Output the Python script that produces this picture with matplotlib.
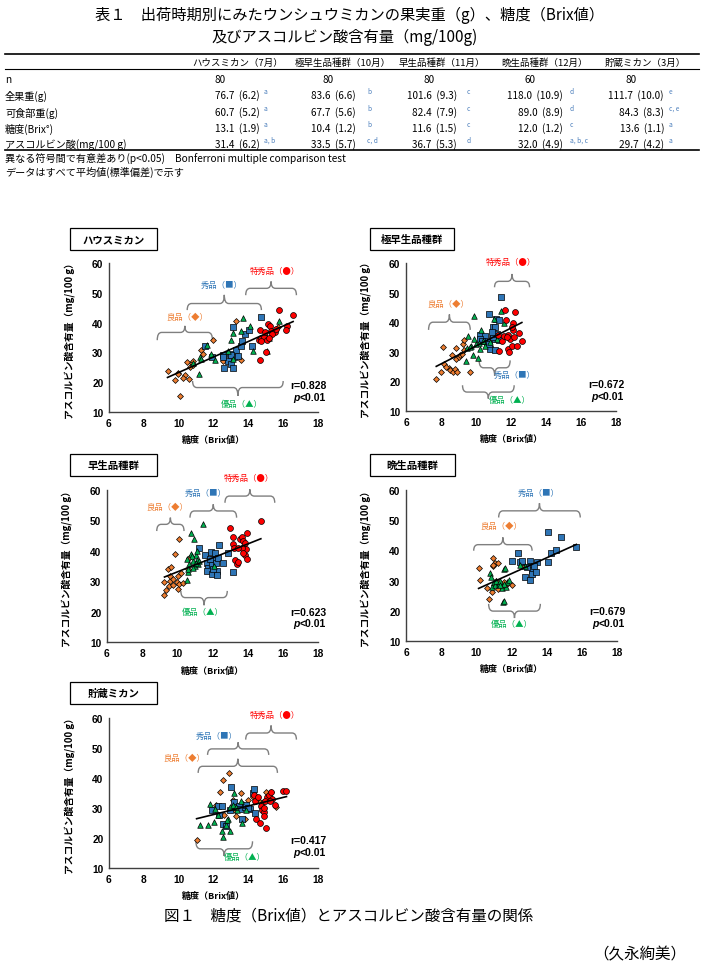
import numpy as np
import matplotlib
matplotlib.use('Agg')
import matplotlib.pyplot as plt
from matplotlib.path import Path
from matplotlib.patches import PathPatch, Rectangle
from matplotlib.lines import Line2D

plt.rcParams['font.family'] = ['Noto Sans CJK JP', 'DejaVu Sans']

W, H = 705, 978

# ---------------- 表1 のデータ ----------------
tbl_cols = ['ハウスミカン（7月）', '極早生品種群（10月）', '早生品種群（11月）', '晩生品種群（12月）', '貯蔵ミカン（3月）']
tbl_rows = ['n', '全果重(g)', '可食部重(g)', '糖度(Brix°)', 'アスコルビン酸(mg/100 g)']
tbl_n = ['80', '80', '80', '60', '80']
tbl_weight = ['76.7  (6.2)', '83.6  (6.6)', '101.6  (9.3)', '118.0  (10.9)', '111.7  (10.0)']
tbl_weight_sig = ['a', 'b', 'c', 'd', 'e']
tbl_edible = ['60.7  (5.2)', '67.7  (5.6)', '82.4  (7.9)', '89.0  (8.9)', '84.3  (8.3)']
tbl_edible_sig = ['a', 'b', 'c', 'd', 'c, e']
tbl_brix = ['13.1  (1.9)', '10.4  (1.2)', '11.6  (1.5)', '12.0  (1.2)', '13.6  (1.1)']
tbl_brix_sig = ['a', 'b', 'c', 'c', 'a']
tbl_vc = ['31.4  (6.2)', '33.5  (5.7)', '36.7  (5.3)', '32.0  (4.9)', '29.7  (4.2)']
tbl_vc_sig = ['a, b', 'c, d', 'd', 'a, b, c', 'a']

# ---------------- 図1 のデータ（糖度, アスコルビン酸） ----------------
# ハウスミカン
house_ryo_x = [9.36, 9.78, 9.97, 10.07, 10.36, 10.26, 10.45, 10.6, 10.74, 10.64, 10.83, 10.8, 11.31, 12.0, 12.52, 13.32, 13.6, 15.7, 11.37, 9.95]
house_ryo_y = [23.8, 20.6, 23.0, 15.5, 22.4, 21.3, 26.7, 21.0, 26.3, 25.1, 25.7, 27.2, 30.7, 34.0, 27.2, 40.4, 27.6, 38.6, 29.6, 22.8]
house_yu_x = [10.83, 11.18, 11.2, 11.3, 11.6, 11.85, 12.1, 12.84, 13.03, 13.13, 13.7, 13.6, 14.12, 14.24, 15.1, 15.1, 14.98, 15.77, 15.2, 13.1]
house_yu_y = [26.5, 22.8, 28.5, 27.7, 32.4, 29.5, 27.4, 30.5, 34.2, 27.7, 41.5, 37.2, 38.7, 30.5, 35.0, 30.5, 36.1, 40.6, 34.7, 36.5]
house_shu_x = [11.54, 11.94, 12.55, 12.63, 12.84, 12.94, 12.98, 13.11, 13.13, 13.19, 13.32, 13.57, 13.62, 13.83, 14.03, 14.22, 14.75, 13.03, 12.52, 13.41]
house_shu_y = [32.0, 28.6, 29.1, 24.9, 27.2, 29.4, 26.0, 24.9, 38.6, 28.3, 30.7, 32.2, 33.7, 36.3, 37.6, 32.3, 42.0, 29.2, 28.3, 28.8]
house_toku_x = [14.66, 14.62, 14.75, 14.89, 15.0, 14.66, 14.94, 15.13, 15.23, 15.33, 15.52, 15.61, 15.75, 16.22, 16.15, 16.57, 15.07, 15.38, 14.75, 15.2]
house_toku_y = [27.4, 34.1, 35.0, 35.3, 30.2, 37.6, 36.7, 39.5, 38.9, 37.2, 37.0, 37.8, 44.2, 38.9, 37.5, 42.5, 34.2, 36.1, 33.9, 35.0]

# 極早生品種群
goku_ryo_x = [7.73, 8.02, 8.11, 8.19, 8.43, 8.53, 8.62, 8.68, 8.81, 8.9, 8.83, 8.87, 9.0, 9.1, 9.2, 9.23, 9.33, 9.29, 9.63, 8.3]
goku_ryo_y = [20.9, 23.1, 31.6, 26.0, 24.6, 24.0, 29.0, 23.1, 24.3, 23.1, 27.6, 31.3, 28.2, 28.8, 29.3, 32.7, 34.0, 30.5, 23.1, 24.8]
goku_yu_x = [9.42, 9.52, 9.48, 9.82, 9.9, 9.73, 9.86, 10.09, 10.15, 10.28, 10.24, 10.39, 10.81, 11.0, 11.42, 11.61, 10.0, 9.67, 11.2, 10.5]
goku_yu_y = [26.9, 35.3, 31.3, 28.8, 42.0, 32.1, 34.4, 28.0, 32.9, 37.2, 31.0, 33.8, 33.3, 41.1, 43.9, 39.8, 32.7, 31.6, 34.4, 32.0]
goku_shu_x = [10.2, 10.53, 10.72, 10.81, 10.96, 11.06, 11.1, 11.15, 10.9, 11.29, 11.44, 11.34, 10.62, 10.43, 10.99, 10.24, 11.19, 10.9, 10.72, 10.34]
goku_shu_y = [35.7, 35.5, 42.8, 31.0, 38.5, 30.7, 38.3, 41.1, 34.4, 34.0, 48.4, 40.6, 33.3, 33.8, 34.9, 34.4, 36.1, 36.6, 32.7, 33.8]
goku_toku_x = [11.34, 11.23, 11.48, 11.61, 11.63, 11.72, 11.82, 11.86, 11.82, 11.95, 12.05, 12.1, 12.14, 12.18, 12.24, 12.33, 12.43, 12.62, 12.05, 11.76]
goku_toku_y = [30.4, 35.7, 33.8, 35.2, 44.2, 40.6, 31.0, 29.9, 35.8, 34.4, 32.1, 37.4, 39.8, 34.9, 43.6, 32.1, 36.3, 33.8, 38.3, 34.9]

# 早生品種群
wase_ryo_x = [9.27, 9.36, 9.27, 9.46, 9.5, 9.59, 9.65, 9.74, 9.78, 9.87, 9.97, 10.06, 10.1, 10.06, 10.12, 10.2, 10.31, 10.59, 10.69, 9.59]
wase_ryo_y = [25.5, 27.0, 29.7, 34.1, 28.4, 30.1, 34.8, 28.6, 30.6, 38.8, 29.7, 27.5, 43.8, 31.7, 29.0, 32.8, 29.5, 33.9, 37.7, 31.7]
wase_yu_x = [10.54, 10.57, 10.59, 10.76, 10.78, 10.91, 10.95, 11.01, 11.06, 11.1, 11.14, 11.2, 11.48, 10.69, 10.88, 11.06, 12.1, 10.82, 11.25, 10.63]
wase_yu_y = [30.3, 37.2, 33.0, 45.7, 38.8, 36.6, 44.0, 35.0, 38.5, 39.9, 37.0, 35.5, 48.7, 35.5, 34.4, 36.1, 35.0, 38.3, 36.6, 34.1]
wase_shu_x = [11.25, 11.57, 11.67, 11.76, 11.67, 11.9, 11.95, 11.95, 12.05, 12.14, 12.2, 12.24, 12.33, 12.37, 12.24, 12.58, 12.9, 13.18, 12.05, 11.86]
wase_shu_y = [40.8, 38.5, 36.1, 34.4, 33.4, 39.5, 32.3, 35.5, 37.2, 39.4, 36.1, 33.4, 37.7, 41.9, 31.9, 35.9, 39.4, 33.0, 34.1, 37.2]
wase_toku_x = [12.99, 13.18, 13.18, 13.22, 13.28, 13.37, 13.46, 13.56, 13.65, 13.75, 13.79, 13.84, 13.88, 13.84, 13.94, 13.97, 14.75, 13.65, 13.46, 13.75]
wase_toku_y = [47.4, 44.6, 42.1, 41.0, 36.9, 35.5, 36.4, 44.0, 44.6, 43.2, 41.0, 42.5, 40.5, 38.5, 37.4, 46.0, 49.8, 41.0, 41.0, 39.4]

# 晩生品種群（特秀品なし）
ban_ryo_x = [10.13, 10.23, 10.7, 10.61, 10.89, 10.95, 10.95, 10.99, 11.08, 11.14, 11.23, 11.23, 11.36, 11.46, 11.59, 11.71, 12.03, 10.95, 12.6, 13.15]
ban_ryo_y = [34.1, 30.2, 23.8, 27.6, 26.2, 37.5, 34.9, 28.4, 35.7, 30.0, 35.7, 27.3, 28.9, 27.8, 29.5, 28.4, 28.6, 35.1, 34.9, 34.6]
ban_yu_x = [10.8, 10.85, 10.89, 10.99, 11.08, 11.14, 11.27, 11.36, 11.46, 11.52, 11.55, 11.55, 11.65, 11.74, 11.71, 11.84, 11.55, 12.46, 12.79, 11.33]
ban_yu_y = [32.5, 31.1, 27.8, 29.5, 28.4, 30.0, 28.9, 30.0, 27.5, 22.9, 23.4, 33.8, 34.2, 29.5, 27.8, 30.3, 28.9, 35.2, 34.9, 28.4]
ban_shu_x = [12.05, 12.37, 12.5, 12.58, 12.79, 13.03, 13.03, 13.13, 13.17, 13.17, 13.41, 13.45, 14.06, 14.06, 14.25, 14.53, 14.83, 15.69, 13.26, 12.88]
ban_shu_y = [36.4, 39.3, 36.0, 36.6, 31.1, 36.4, 30.2, 34.7, 33.6, 32.2, 33.0, 36.0, 46.2, 36.0, 39.1, 40.1, 44.3, 41.0, 34.9, 34.4]

# 貯蔵ミカン
cho_ryo_x = [11.03, 12.13, 12.4, 12.55, 12.9, 12.61, 13.13, 13.22, 13.32, 13.6, 13.7, 13.8, 14.0, 14.27, 14.66, 14.85, 15.33, 15.61, 15.0, 11.98]
cho_ryo_y = [19.5, 31.1, 35.5, 39.2, 41.7, 27.7, 32.8, 29.2, 27.3, 34.9, 31.4, 26.4, 32.8, 33.6, 32.0, 32.0, 35.3, 30.3, 35.5, 29.4]
cho_yu_x = [11.22, 11.69, 11.79, 12.02, 12.11, 12.46, 12.55, 12.69, 12.94, 13.19, 13.36, 13.57, 13.61, 12.84, 12.27, 12.97, 13.89, 12.75, 13.13, 13.32]
cho_yu_y = [24.2, 24.2, 31.4, 25.5, 29.7, 22.5, 20.5, 24.2, 22.5, 35.1, 29.2, 32.2, 25.1, 26.4, 27.7, 30.3, 29.2, 25.9, 31.1, 30.3]
cho_shu_x = [11.89, 12.23, 12.33, 12.5, 12.55, 12.69, 12.94, 13.0, 13.17, 13.32, 13.47, 13.51, 13.61, 13.8, 13.89, 14.12, 14.27, 14.33, 14.37, 14.0]
cho_shu_y = [29.2, 30.8, 27.7, 30.8, 24.7, 23.9, 29.2, 36.9, 32.0, 30.3, 30.8, 29.7, 26.4, 30.3, 31.1, 29.7, 34.9, 36.4, 28.3, 29.9]
cho_toku_x = [14.33, 14.37, 14.43, 14.66, 14.75, 14.81, 14.89, 14.89, 15.04, 15.08, 15.19, 15.29, 15.38, 15.52, 16.0, 16.19, 14.95, 14.56, 15.25, 14.89]
cho_toku_y = [34.2, 32.5, 26.4, 25.1, 30.6, 29.4, 28.6, 30.0, 23.3, 33.6, 34.2, 35.3, 33.1, 31.1, 35.6, 35.8, 32.2, 33.6, 32.5, 27.5]

r_values = ['r=0.828', 'r=0.672', 'r=0.623', 'r=0.679', 'r=0.417']

C_ORANGE = '#ED7D31'
C_GREEN = '#00B050'
C_BLUE = '#2E75B6'
C_RED = '#FF0000'


def px(x):
    return x / W


def py(y):
    return 1 - y / H


fig = plt.figure(figsize=(W / 100, H / 100), dpi=100)

# ---------------- タイトルと表 ----------------
fig.text(px(350), py(15), '表１　出荷時期別にみたウンシュウミカンの果実重（g）、糖度（Brix値）',
         ha='center', va='center', fontsize=11)
fig.text(px(345), py(37), '及びアスコルビン酸含有量（mg/100g)', ha='center', va='center', fontsize=11)

for yy, lw in [(55, 1.2), (70, 0.8), (151, 1.2)]:
    fig.add_artist(Line2D([px(5), px(699)], [py(yy), py(yy)], color='black', lw=lw))

col_center = [238, 343, 442, 545, 645]
val_right = [260, 356, 457, 563, 664]
sig_left = [264, 367, 467, 570, 669]
n_x = [220, 328, 429, 530, 631]
row_y = [80, 96, 113, 129, 145]

for i, c in enumerate(tbl_cols):
    fig.text(px(col_center[i]), py(63), c, ha='center', va='center', fontsize=6.8)
for j, lab in enumerate(tbl_rows):
    fig.text(px(5), py(row_y[j]), lab, ha='left', va='center', fontsize=7.3)
for i in range(5):
    fig.text(px(n_x[i]), py(row_y[0]), tbl_n[i], ha='center', va='center', fontsize=7.2)
for j, (vals, sigs) in enumerate([(tbl_weight, tbl_weight_sig), (tbl_edible, tbl_edible_sig),
                                  (tbl_brix, tbl_brix_sig), (tbl_vc, tbl_vc_sig)]):
    for i in range(5):
        fig.text(px(val_right[i]), py(row_y[j + 1]), vals[i], ha='right', va='center', fontsize=7.2)
        fig.text(px(sig_left[i]), py(row_y[j + 1] - 4), sigs[i], ha='left', va='center',
                 fontsize=4.8, color='#4F81BD')
fig.text(px(5), py(158), '異なる符号間で有意差あり(p<0.05)　Bonferroni multiple comparison test',
         ha='left', va='center', fontsize=7.3)
fig.text(px(5), py(172), 'データはすべて平均値(標準偏差)で示す', ha='left', va='center', fontsize=7.3)


# ---------------- 図 ----------------
def brace(ax, x0, x1, ya, ym, yt, r=0.25):
    xc = (x0 + x1) / 2
    verts = [(x0, ya), (x0, ym), (x0 + r, ym), (xc - r, ym), (xc, ym), (xc, yt),
             (xc, ym), (xc + r, ym), (x1 - r, ym), (x1, ym), (x1, ya)]
    codes = [Path.MOVETO, Path.CURVE3, Path.CURVE3, Path.LINETO, Path.CURVE3, Path.CURVE3,
             Path.CURVE3, Path.CURVE3, Path.LINETO, Path.CURVE3, Path.CURVE3]
    ax.add_patch(PathPatch(Path(verts, codes), fill=False, ec='#7F7F7F', lw=1.0, clip_on=False))


def panel(rect, box, title, groups, braces, rtxt, ry):
    l, r, t, b = rect
    ax = fig.add_axes([px(l), py(b), (r - l) / W, (b - t) / H])
    allx, ally = [], []
    for xs, ys, mk, col, s in groups:
        ax.scatter(xs, ys, marker=mk, s=s, c=col, edgecolors='black', linewidths=0.5, zorder=3)
        allx += xs
        ally += ys
    allx = np.array(allx)
    ally = np.array(ally)
    k, c0 = np.polyfit(allx, ally, 1)
    lx = np.array([allx.min(), allx.max()])
    ax.plot(lx, k * lx + c0, color='black', lw=1.2, zorder=5)

    ax.set_xlim(6, 18)
    ax.set_ylim(10, 60)
    ax.set_xticks(range(6, 19, 2))
    ax.set_yticks(range(10, 61, 10))
    for sp in ['top', 'right']:
        ax.spines[sp].set_visible(False)
    for sp in ['left', 'bottom']:
        ax.spines[sp].set_color('#404040')
        ax.spines[sp].set_linewidth(1.0)
    ax.tick_params(length=0, pad=4, labelsize=7.3)
    for lab in ax.get_xticklabels() + ax.get_yticklabels():
        lab.set_fontweight('bold')
        lab.set_family(['Liberation Sans', 'DejaVu Sans'])
    ax.set_xlabel('糖度（Brix値）', fontsize=6.5, fontweight='bold')
    ax.xaxis.set_label_coords(0.5, -0.155)
    ax.set_ylabel('アスコルビン酸含有量（mg/100 g）', fontsize=7, fontweight='bold')
    ax.yaxis.set_label_coords(-0.165, 0.5)

    for x0, x1, ya, ym, yt, lab, col, tx, ty in braces:
        brace(ax, x0, x1, ya, ym, yt)
        ax.text(tx, ty, lab, ha='center', va='center', fontsize=6, color=col, clip_on=False)

    ax.text(18.47, ry[0], rtxt, ha='right', va='center', fontsize=7.5, fontweight='bold',
            family=['Liberation Sans', 'DejaVu Sans'])
    t2 = ax.text(18.45, ry[1], '<0.01', ha='right', va='center', fontsize=7.5, fontweight='bold',
                 family=['Liberation Sans', 'DejaVu Sans'])
    ax.annotate('p', xy=(0, 0), xycoords=t2, ha='right', va='bottom', fontsize=7.5,
                fontweight='bold', style='italic', family=['Liberation Sans', 'DejaVu Sans'])

    bx0, bx1, by0, by1 = box
    fig.add_artist(Rectangle((px(bx0), py(by1)), (bx1 - bx0) / W, (by1 - by0) / H,
                             transform=fig.transFigure, fill=False, ec='black', lw=0.9))
    fig.text(px((bx0 + bx1) / 2), py((by0 + by1) / 2), title, ha='center', va='center',
             fontsize=7.5, fontweight='bold')
    return ax


def grp(rx, ry_, yx, yy, sx, sy, tx=None, ty=None):
    g = [(rx, ry_, 'D', C_ORANGE, 9), (sx, sy, 's', C_BLUE, 19), (yx, yy, '^', C_GREEN, 16)]
    if tx is not None:
        g.append((tx, ty, 'o', C_RED, 18))
    return g


L_RYO, L_YU, L_SHU, L_TOKU = '良品（◆）', '優品（▲）', '秀品（■）', '特秀品（●）'

panel((109, 318, 264, 413), (70, 157, 229, 251), 'ハウスミカン',
      grp(house_ryo_x, house_ryo_y, house_yu_x, house_yu_y, house_shu_x, house_shu_y, house_toku_x, house_toku_y),
      [(8.77, 11.94, 34.1, 36.7, 38.9, L_RYO, C_ORANGE, 10.5, 42.1),
       (10.49, 14.75, 44.2, 46.4, 49.3, L_SHU, C_BLUE, 12.5, 52.9),
       (13.85, 16.76, 49.2, 51.5, 53.8, L_TOKU, C_RED, 15.52, 57.6),
       (10.8, 16.0, 20.4, 18.2, 15.4, L_YU, C_GREEN, 13.6, 12.9)],
      r_values[0], (19.0, 15.2))

panel((406, 616, 264, 412), (370, 454, 229, 251), '極早生品種群',
      grp(goku_ryo_x, goku_ryo_y, goku_yu_x, goku_yu_y, goku_shu_x, goku_shu_y, goku_toku_x, goku_toku_y),
      [(7.29, 9.67, 37.4, 40.0, 42.6, L_RYO, C_ORANGE, 8.43, 46.2),
       (11.06, 13.06, 51.8, 53.8, 56.3, L_TOKU, C_RED, 12.01, 60.4),
       (10.18, 11.95, 27.1, 24.6, 22.0, L_SHU, C_BLUE, 12.24, 22.2),
       (9.23, 12.18, 18.7, 16.4, 14.2, L_YU, C_GREEN, 11.95, 13.9)],
      r_values[1], (19.0, 15.1))

panel((107, 318, 491, 643), (70, 157, 455, 477), '早生品種群',
      grp(wase_ryo_x, wase_ryo_y, wase_yu_x, wase_yu_y, wase_shu_x, wase_shu_y, wase_toku_x, wase_toku_y),
      [(8.83, 10.38, 46.5, 48.7, 50.9, L_RYO, C_ORANGE, 9.44, 54.7),
       (10.72, 13.37, 50.9, 53.1, 55.3, L_SHU, C_BLUE, 11.63, 59.1),
       (12.71, 15.54, 55.8, 58.0, 60.2, L_TOKU, C_RED, 14.07, 64.1),
       (10.2, 12.84, 26.8, 24.6, 22.1, L_YU, C_GREEN, 11.44, 19.9)],
      r_values[2], (20.0, 16.1))

panel((406, 617, 491, 642), (370, 455, 455, 477), '晩生品種群',
      grp(ban_ryo_x, ban_ryo_y, ban_yu_x, ban_yu_y, ban_shu_x, ban_shu_y),
      [(11.27, 15.91, 50.9, 53.1, 55.6, L_SHU, C_BLUE, 13.55, 59.3),
       (9.85, 13.17, 39.9, 41.9, 44.3, L_RYO, C_ORANGE, 11.44, 48.4),
       (10.7, 13.64, 22.3, 19.9, 17.6, L_YU, C_GREEN, 12.03, 15.7)],
      r_values[3], (19.9, 16.0))

panel((109, 318, 719, 869), (70, 157, 683, 705), '貯蔵ミカン',
      grp(cho_ryo_x, cho_ryo_y, cho_yu_x, cho_yu_y, cho_shu_x, cho_shu_y, cho_toku_x, cho_toku_y),
      [(13.85, 16.76, 52.8, 55.0, 57.5, L_TOKU, C_RED, 15.52, 61.3),
       (11.66, 15.17, 47.7, 49.7, 51.9, L_SHU, C_BLUE, 12.17, 54.3),
       (11.12, 15.67, 41.7, 43.9, 46.4, L_RYO, C_ORANGE, 10.3, 46.7),
       (10.99, 14.24, 18.9, 16.4, 14.0, L_YU, C_GREEN, 13.8, 13.9)],
      r_values[4], (19.4, 15.5))

fig.text(px(349), py(916), '図１　糖度（Brix値）とアスコルビン酸含有量の関係', ha='center', va='center', fontsize=11.2)
fig.text(px(686), py(955), '（久永絢美）', ha='right', va='center', fontsize=11.2)

fig.savefig('out.png', dpi=100)
